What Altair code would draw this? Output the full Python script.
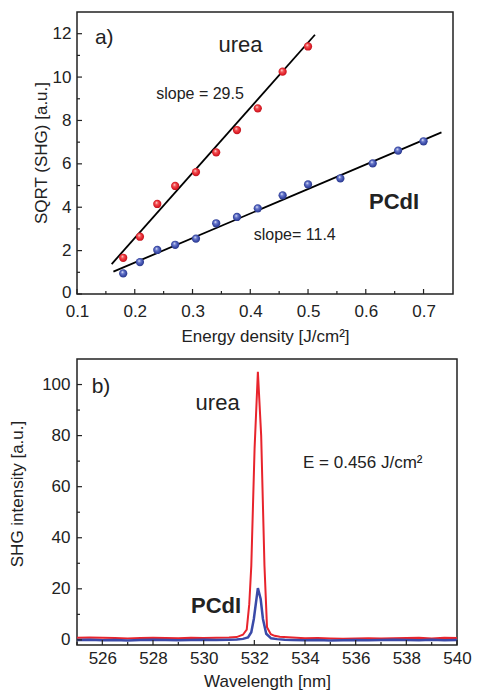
import altair as alt
import pandas as pd

FONT = "Liberation Sans"
INK = "#222222"
RED = "#e8242c"
BLUE = "#3a4aa8"

# ---------- panel a) data ----------
en_urea = [0.180, 0.209, 0.239, 0.270, 0.306, 0.341, 0.377, 0.413, 0.456, 0.500]
sq_urea = [1.67, 2.64, 4.15, 4.98, 5.62, 6.53, 7.56, 8.56, 10.25, 11.41]
en_pcdi = [0.180, 0.209, 0.239, 0.270, 0.306, 0.341, 0.377, 0.413, 0.456, 0.500,
           0.556, 0.612, 0.656, 0.700]
sq_pcdi = [0.95, 1.47, 2.03, 2.27, 2.55, 3.26, 3.55, 3.95, 4.55, 5.05,
           5.33, 6.02, 6.61, 7.04]
fit_urea_x = [0.160, 0.512]
fit_urea_y = [1.38, 11.95]
fit_pcdi_x = [0.163, 0.731]
fit_pcdi_y = [1.03, 7.45]

a_xmajor = [0.1, 0.2, 0.3, 0.4, 0.5, 0.6, 0.7]
a_xminor = [0.15, 0.25, 0.35, 0.45, 0.55, 0.65]
a_ymajor = [0, 2, 4, 6, 8, 10, 12]
a_yminor = [1, 3, 5, 7, 9, 11]

# ---------- panel b) data ----------
wl_urea = [525.0, 525.5, 526.0, 526.5, 527.0, 527.5, 528.0, 528.5, 529.0, 529.5,
           530.0, 530.5, 531.0, 531.3, 531.55, 531.7, 531.8, 531.88, 532.01, 532.14,
           532.27, 532.4, 532.5, 532.65, 532.8, 533.0, 533.5, 534.0, 534.5, 535.0,
           535.5, 536.0, 536.5, 537.0, 537.5, 538.0, 538.5, 539.0, 539.5, 540.0]
int_urea = [0.8, 0.9, 0.8, 0.7, 0.5, 0.7, 0.8, 0.7, 0.6, 0.8,
            0.7, 0.8, 0.9, 1.1, 2.0, 4.0, 14.0, 29.0, 75.0, 105.0,
            80.0, 29.0, 5.0, 2.2, 1.6, 1.2, 0.9, 0.6, 0.7, 0.5,
            0.4, 0.5, 0.6, 0.5, 0.6, 0.7, 0.8, 0.5, 0.8, 0.7]
wl_pcdi = [525.0, 525.5, 526.0, 526.5, 527.0, 527.5, 528.0, 528.5, 529.0, 529.5,
           530.0, 530.5, 531.0, 531.3, 531.55, 531.75, 531.88, 531.98, 532.14, 532.25,
           532.34, 532.47, 532.66, 532.9, 533.2, 533.5, 534.0, 534.5, 535.0, 535.5,
           536.0, 536.5, 537.0, 537.5, 538.0, 538.5, 539.0, 539.5, 540.0]
int_pcdi = [0.0, 0.1, -0.1, 0.0, -0.2, 0.0, 0.1, 0.0, -0.1, 0.0,
            0.1, 0.0, 0.1, 0.2, 0.4, 1.0, 3.0, 8.2, 20.3, 16.0,
            8.2, 2.4, 0.6, 0.3, 0.1, 0.0, -0.1, 0.0, -0.2, -0.1,
            0.0, -0.1, 0.0, 0.1, 0.0, -0.1, 0.1, -0.1, 0.0]

b_xmajor = [526, 528, 530, 532, 534, 536, 538, 540]
b_xminor = [525, 527, 529, 531, 533, 535, 537, 539]
b_ymajor = [0, 20, 40, 60, 80, 100]
b_yminor = [10, 30, 50, 70, 90]

TOP_W, TOP_H = 376, 282
BOT_W, BOT_H = 380, 286


def axis(values, fmt, title, lp, tp, **kw):
    opts = dict(values=values, format=fmt, ticks=False, tickSize=0,
                domain=False, grid=False, labelPadding=lp, titlePadding=tp,
                labelFontSize=17, titleFontSize=17, labelFont=FONT, titleFont=FONT,
                labelColor=INK, titleColor=INK, titleFontWeight="normal",
                labelFlush=False, labelOverlap=False, **kw)
    opts["title"] = title
    return alt.Axis(**opts)


def gradient(c_light, c_mid, c_dark):
    return alt.RadialGradient(
        gradient="radial", x1=0.38, y1=0.32, r1=0.0, x2=0.5, y2=0.5, r2=0.55,
        stops=[alt.GradientStop(offset=0, color="#ffffff"),
               alt.GradientStop(offset=0.3, color=c_light),
               alt.GradientStop(offset=0.7, color=c_mid),
               alt.GradientStop(offset=1, color=c_dark)])


def label(d, X, Y, size, weight="normal", align="center"):
    return alt.Chart(pd.DataFrame(d)).mark_text(
        font=FONT, fontSize=size, fontWeight=weight, color=INK, align=align,
        baseline="middle").encode(x=X("x"), y=Y("y"), text="t:N")


def ytitle(text, xpix, ypix):
    return alt.Chart(pd.DataFrame({"t": [text]})).mark_text(
        font=FONT, fontSize=17, color=INK, angle=270, align="center",
        baseline="middle").encode(x=alt.value(xpix), y=alt.value(ypix), text="t:N")


def tick_layers(data_major, data_minor, X, Y, h, xaxis):
    out = []
    for vals, ln in ((data_major, 5), (data_minor, 3)):
        if xaxis:
            out.append(alt.Chart(pd.DataFrame({"x": vals})).mark_rule(
                color=INK, strokeWidth=1.2).encode(
                x=X("x"), y=alt.value(h), y2=alt.value(h - ln)))
        else:
            out.append(alt.Chart(pd.DataFrame({"y": vals})).mark_rule(
                color=INK, strokeWidth=1.2).encode(
                y=Y("y"), x=alt.value(0), x2=alt.value(ln)))
    return out


# ---------- panel a) ----------
xs_a = alt.Scale(domain=[0.1, 0.751], nice=False, zero=False)
ys_a = alt.Scale(domain=[0, 13], nice=False, zero=False)


def XA(f):
    return alt.X(f"{f}:Q", scale=xs_a,
                 axis=axis(a_xmajor, ".1f", "Energy density [J/cm²]", 9, 9))


def YA(f):
    return alt.Y(f"{f}:Q", scale=ys_a,
                 axis=axis(a_ymajor, "d", None, 6, 0,
                           labelOffset={"condition": {"test": "datum.value === 0",
                                                      "value": -2}, "value": 0}))


fit_df = pd.DataFrame({
    "x": fit_urea_x + fit_pcdi_x,
    "y": fit_urea_y + fit_pcdi_y,
    "s": ["urea"] * 2 + ["PCdI"] * 2,
})
fits = alt.Chart(fit_df).mark_line(color="#000000", strokeWidth=1.8).encode(
    x=XA("x"), y=YA("y"), detail="s:N")

pts_u = alt.Chart(pd.DataFrame({"x": en_urea, "y": sq_urea})).mark_circle(
    size=68, opacity=1, color=gradient("#f25a5a", "#e3202a", "#b0141c")).encode(
    x=XA("x"), y=YA("y"))
pts_p = alt.Chart(pd.DataFrame({"x": en_pcdi, "y": sq_pcdi})).mark_circle(
    size=68, opacity=1, color=gradient("#6f7fd0", "#3a4aa8", "#263480")).encode(
    x=XA("x"), y=YA("y"))

txt_a = [
    label({"x": [0.131], "y": [11.8], "t": ["a)"]}, XA, YA, 21, align="left"),
    label({"x": [0.383], "y": [11.47], "t": ["urea"]}, XA, YA, 22),
    label({"x": [0.649], "y": [4.24], "t": ["PCdI"]}, XA, YA, 22, "bold"),
    label({"x": [0.313], "y": [9.22], "t": ["slope = 29.5"]}, XA, YA, 16),
    label({"x": [0.477], "y": [2.72], "t": ["slope= 11.4"]}, XA, YA, 16),
    ytitle("SQRT (SHG) [a.u.]", -35, TOP_H / 2),
]

ticks_a = (tick_layers(a_xmajor, a_xminor, XA, YA, TOP_H, True)
           + tick_layers(a_ymajor, a_yminor, XA, YA, TOP_H, False))

panel_a = alt.layer(fits, pts_u, pts_p, *txt_a, *ticks_a).properties(
    width=TOP_W, height=TOP_H)

# ---------- panel b) ----------
xs_b = alt.Scale(domain=[525, 540], nice=False, zero=False)
ys_b = alt.Scale(domain=[-2, 110], nice=False, zero=False)


def XB(f):
    return alt.X(f"{f}:Q", scale=xs_b,
                 axis=axis(b_xmajor, "d", "Wavelength [nm]", 5, 7))


def YB(f):
    return alt.Y(f"{f}:Q", scale=ys_b,
                 axis=axis(b_ymajor, "d", None, 7, 0))


line_u = alt.Chart(pd.DataFrame({"x": wl_urea, "y": int_urea})).mark_line(
    color=RED, strokeWidth=2.0, clip=True).encode(x=XB("x"), y=YB("y"))
line_p = alt.Chart(pd.DataFrame({"x": wl_pcdi, "y": int_pcdi})).mark_line(
    color=BLUE, strokeWidth=2.5, clip=True).encode(x=XB("x"), y=YB("y"))

txt_b = [
    label({"x": [525.58], "y": [99.2], "t": ["b)"]}, XB, YB, 21, align="left"),
    label({"x": [530.55], "y": [92.6], "t": ["urea"]}, XB, YB, 22),
    label({"x": [530.49], "y": [13.1], "t": ["PCdI"]}, XB, YB, 22, "bold"),
    label({"x": [536.28], "y": [69.3], "t": ["E = 0.456 J/cm²"]}, XB, YB, 17),
    ytitle("SHG intensity [a.u.]", -59, BOT_H / 2 - 8),
]

ticks_b = (tick_layers(b_xmajor, b_xminor, XB, YB, BOT_H, True)
           + tick_layers(b_ymajor, b_yminor, XB, YB, BOT_H, False))

panel_b = alt.layer(line_u, line_p, *txt_b, *ticks_b).properties(
    width=BOT_W, height=BOT_H)

chart = alt.vconcat(panel_a, panel_b, spacing=13).properties(
    padding={"left": 0, "top": 3, "right": 0, "bottom": 0},
    background="white",
).configure_view(stroke=INK, strokeWidth=1.5)

chart.save("out.html", embed_options={"renderer": "svg", "actions": False})
